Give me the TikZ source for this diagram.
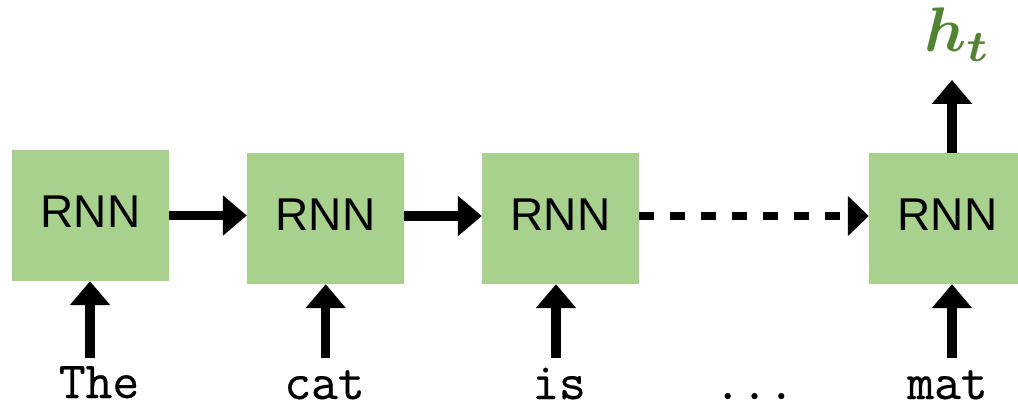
\documentclass[tikz,border=0pt]{standalone}
\usepackage{fontspec}
\usepackage{bm}
\usepackage{graphicx}
\newfontfamily\cellfont{Liberation Sans}
\newfontfamily\wordfont[UprightFeatures={FakeBold=0.5}]{Latin Modern Mono}
\usetikzlibrary{arrows.meta}
\definecolor{cellgreen}{HTML}{A9D18E}
\definecolor{outgreen}{HTML}{548235}

\begin{document}
\begin{tikzpicture}[x=1pt,y=-1pt,
  cell/.style={fill=cellgreen, minimum width=157pt, minimum height=131pt,
    inner sep=0pt, text depth=8pt, font=\cellfont\fontsize{46}{50}\selectfont},
  word/.style={anchor=base, inner sep=0pt, font=\wordfont\fontsize{52}{56}\selectfont},
  link/.style={line width=9.5pt, -{Triangle[length=24pt,width=39pt]}},
  dashlink/.style={line width=8pt, dash pattern=on 15pt off 16pt,
    -{Triangle[length=21pt,width=39pt]}}
]
\useasboundingbox (0,0) rectangle (1018,409);

% recurrent cells
\node[cell] (c1) at (90.5,215.5) {RNN};
\node[cell] (c2) at (325.5,218.5) {RNN};
\node[cell] (c3) at (560.5,218.5) {RNN};
\node[cell] (c4) at (947.5,218.5) {RNN};

% input tokens
\node[word] (w1) at (99,398) {The};
\node[word] (w2) at (324.5,399) {cat};
\node[word] (w3) at (559,399) {is};
\node[word] (w4) at (754.5,399) {...};
\node[word] (w5) at (947.5,399) {mat};

% final hidden state
\node[anchor=base west, inner sep=0pt, text=outgreen] (ht) at (924,52)
  {\scalebox{6.3}{$\bm{h}_{\bm{t}}$}};

% hidden-state links between cells
\coordinate (row) at (0,216);
\draw[link] (c1.east) -- (c1.east -| c2.west);
\draw[link] (c2.east |- row) -- (c3.west |- row);
\draw[dashlink] (c3.east |- row) -- (c4.west |- row);

% token inputs
\coordinate (in1) at (90,358);
\coordinate (in2) at (325.7,358);
\coordinate (in3) at (556,358);
\coordinate (in5) at (952,358);
\draw[link] (in1) -- (in1 |- c1.south);
\draw[link] (in2) -- (in2 |- c2.south);
\draw[link] (in3) -- (in3 |- c3.south);
\draw[link] (in5) -- (in5 |- c4.south);

% output of the last cell
\coordinate (out) at (952,80);
\draw[link] (out |- c4.north) -- (out);
\end{tikzpicture}
\end{document}
